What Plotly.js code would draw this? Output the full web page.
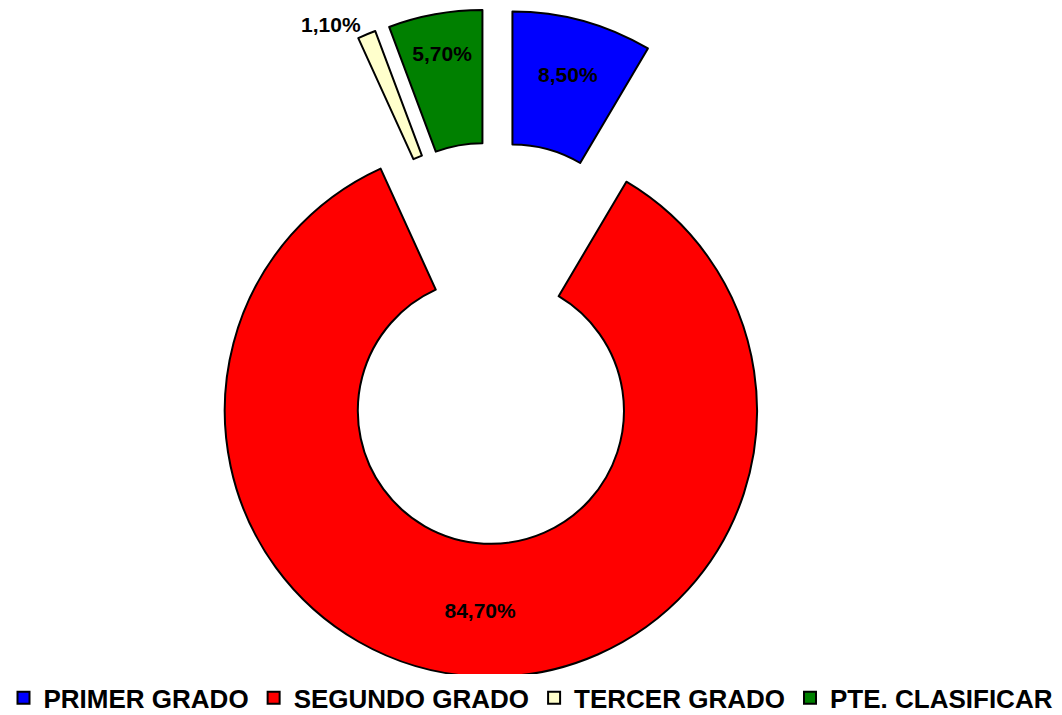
<!DOCTYPE html>
<html>
<head>
<meta charset="utf-8">
<script src="https://cdn.plot.ly/plotly-3.0.1.min.js"></script>
<style>html,body{margin:0;padding:0;background:#fff;}#chart{width:1062px;height:715px;}</style>
</head>
<body>
<div id="chart"></div>
<script>
var categories = ["PRIMER GRADO", "SEGUNDO GRADO", "TERCER GRADO", "PTE. CLASIFICAR"];
var values = [8.5, 84.7, 1.1, 5.7];
var colors = ["#0000FF", "#FF0000", "#FFFFCC", "#008000"];
var textPositions = ["inside", "inside", "outside", "inside"];

var trace = {
  type: "pie",
  labels: categories,
  values: values,
  sort: false,
  direction: "clockwise",
  rotation: 0,
  hole: 0.5,
  pull: [0.255, 0.255, 0.255, 0.255],
  domain: {x: [0, 0.9313], y: [0, 1]},
  marker: {colors: colors, line: {color: "#000000", width: 2}},
  texttemplate: "%{value:.2f}%",
  textposition: textPositions,
  insidetextorientation: "horizontal",
  textfont: {family: "Liberation Sans, Arial, sans-serif", size: 21, color: "#000000", weight: "bold"},
  outsidetextfont: {family: "Liberation Sans, Arial, sans-serif", size: 21, color: "#000000", weight: "bold"},
  hoverinfo: "none"
};

var layout = {
  width: 1062,
  height: 715,
  paper_bgcolor: "#ffffff",
  separators: ",.",
  margin: {l: 0, r: 0, t: 9, b: 38, autoexpand: false},
  showlegend: true,
  legend: {
    orientation: "h",
    xref: "container", yref: "container",
    x: 0.5, xanchor: "center",
    y: 0.024, yanchor: "middle",
    font: {family: "Liberation Sans, Arial, sans-serif", size: 26, color: "#000000", weight: "bold"},
    itemwidth: 30,
    tracegroupgap: 0
  }
};

Plotly.newPlot("chart", [trace], layout, {staticPlot: true});
</script>
</body>
</html>
